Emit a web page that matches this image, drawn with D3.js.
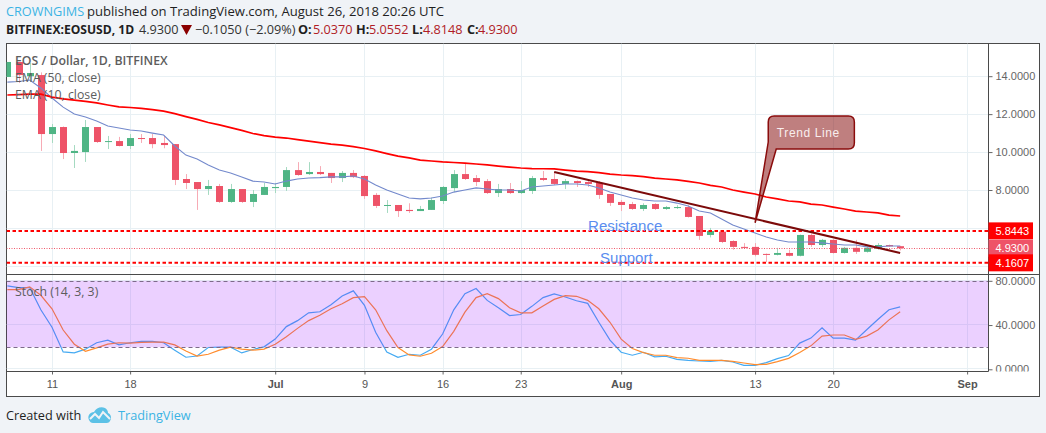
<!DOCTYPE html>
<html>
<head>
<meta charset="utf-8">
<script src="https://d3js.org/d3.v7.min.js"></script>
<style>
  html, body { margin: 0; padding: 0; background: #f0f3f7; overflow: hidden; }
  svg { display: block; }
  text { font-family: "Open Sans", sans-serif; }
  .ax text { font-family: "Liberation Sans", Arial, sans-serif; font-size: 11px; fill: #666; }
</style>
</head>
<body>
<div id="chart"></div>
<script>
// EOS / USD daily, first candle is 7 Jun 2018
var open = [13.96,14.75,14.0,14.06,10.95,11.32,9.95,10.0,11.32,10.53,10.58,10.32,10.74,10.74,10.48,10.42,8.58,8.42,8.05,8.21,7.37,8.05,7.37,7.74,
  8.1,8.16,9.05,8.84,8.95,8.9,8.63,8.9,8.74,7.74,7.16,7.21,6.95,6.89,6.95,7.42,8.1,8.84,8.63,8.47,7.84,8.05,7.84,7.95,8.63,8.58,8.32,8.47,8.42,8.37,7.79,
  7.37,7.26,7.0,7.26,7.0,7.05,7.1,6.63,5.63,5.8,5.31,5.0,5.0,4.63,4.58,4.68,4.53,5.63,5.1,5.37,4.68,4.95,4.74,4.9,5.1,5.037];
var high = [14.75,14.75,14.7,14.2,11.48,11.35,10.37,11.69,11.32,10.85,10.8,10.95,10.95,10.95,10.85,10.42,8.84,8.42,8.53,8.32,8.32,8.05,8.0,8.37,
  8.37,9.21,9.47,9.47,9.26,8.9,9.0,9.05,8.79,7.84,7.47,7.21,7.3,7.16,7.6,8.21,9.05,9.42,8.79,8.58,8.32,8.37,8.47,8.74,9.0,8.95,8.58,8.5,8.58,8.47,7.79,
  7.47,7.37,7.3,7.3,7.16,7.2,7.2,6.63,6.0,5.85,5.35,5.2,5.2,4.65,4.95,4.85,5.65,5.7,5.42,5.4,5.0,5.37,5.0,5.2,5.12,5.0552];
var low = [13.96,13.64,13.7,10.06,10.48,9.63,9.16,9.48,10.48,10.16,10.3,10.16,10.48,10.2,10.2,8.26,8.05,6.95,7.74,7.32,7.32,7.32,7.1,7.74,
  7.84,7.95,8.75,8.79,8.79,8.37,8.42,8.63,7.53,7.05,6.79,6.58,6.79,6.89,6.95,7.26,7.9,8.53,8.21,7.79,7.63,7.79,7.79,7.79,8.47,8.26,8.05,8.16,8.16,7.53,7.16,
  6.89,6.95,6.89,6.95,6.95,7.0,6.55,5.37,5.5,5.2,4.85,4.93,4.5,4.2,4.55,4.5,4.5,5.0,5.0,4.65,4.65,4.63,4.7,4.85,5.0,4.8148];
var close = [14.75,14.06,14.17,10.95,11.32,9.95,10.06,11.32,10.53,10.58,10.32,10.74,10.69,10.42,10.37,8.53,8.37,8.05,8.21,7.37,8.05,7.37,7.79,8.16,
  8.16,9.05,8.79,8.95,8.84,8.63,8.9,8.68,7.68,7.16,7.21,6.89,6.89,7.0,7.47,8.16,8.84,8.58,8.42,7.84,8.05,7.84,8.0,8.63,8.53,8.32,8.47,8.37,8.32,7.74,7.32,
  7.21,7.0,7.21,7.0,7.1,7.1,6.58,5.58,5.84,5.26,5.0,4.95,4.58,4.58,4.68,4.53,5.63,5.1,5.37,4.68,4.95,4.74,4.95,5.1,5.03,4.93];

var ema50 = [13.01,13.03,13.06,13.05,12.90,12.80,12.74,12.67,12.59,12.48,12.38,12.35,12.30,12.24,12.16,12.03,11.87,11.72,11.56,11.43,11.29,11.14,10.98,10.87,
  10.79,10.74,10.66,10.58,10.50,10.42,10.37,10.29,10.19,10.06,9.92,9.79,9.69,9.58,9.53,9.48,9.45,9.42,9.37,9.32,9.26,9.21,9.16,9.13,9.12,9.11,9.05,9.00,8.97,8.92,8.84,
  8.79,8.76,8.71,8.63,8.58,8.53,8.45,8.37,8.24,8.16,8.00,7.89,7.79,7.63,7.53,7.42,7.37,7.26,7.21,7.10,7.00,6.89,6.84,6.79,6.68,6.63];
var ema10 = [13.69,13.72,13.80,13.38,12.85,12.37,12.01,11.85,11.64,11.37,11.27,11.16,11.11,11.00,10.90,10.32,9.84,9.63,9.32,9.05,8.90,8.69,8.47,8.42,
  8.32,8.47,8.58,8.63,8.65,8.69,8.69,8.74,8.58,8.26,8.00,7.79,7.58,7.53,7.58,7.68,7.89,8.00,8.11,8.05,8.00,8.00,7.95,8.16,8.21,8.26,8.32,8.32,8.26,8.11,7.89,
  7.74,7.58,7.47,7.42,7.42,7.31,7.16,6.89,6.79,6.47,6.16,5.94,5.73,5.52,5.36,5.26,5.26,5.26,5.21,5.15,5.10,5.10,5.00,5.00,5.05,5.05];

var stochK = [75.4,73.9,73.9,53.8,38,15.7,14.8,18.2,24,26.4,22.1,24,25.2,25.2,24,17.3,10.9,12,19.7,20,20,14.8,17.9,20.3,
  27.3,38.6,44,51,52,58.4,66.3,70.9,57.8,33.4,15.7,10.9,13.6,12.7,18.2,31.9,53.8,68.4,73,62.3,55.6,48.6,49.5,56.9,64.8,68.1,65.4,62,59.6,42.5,26.4,
  15.4,12.7,15.4,11.2,11.8,9,8.1,7.5,7.2,8,6.6,3.6,3.6,6,9.7,12.4,23.7,28.2,37.4,28.2,28.2,26.4,35.8,45,53.8,56.5];
var stochD = [72.1,72.1,74.5,66.9,54.7,35.5,22.7,16.3,19.4,22.7,24,23.7,24.3,24.6,24.6,22.1,16.6,12,13.6,17.3,20,18.2,17.3,18.2,
  22.7,29.4,37,44,48.9,54.7,59.3,64.8,65.7,53.8,34.9,19.7,13,11.8,14.5,20.6,34.3,51.7,64.8,68.4,63.9,55.6,51,51,57.2,63.2,66.6,66,62.3,54.7,42.5,
  27.3,18.8,15.1,12.7,12.7,10.6,10,8.1,8.1,8.1,7.2,5.7,4.2,4.5,6.9,9.9,15.1,21.2,30,31,31,27,30,35.5,44.7,52];

var priceTicks = [14, 12, 10, 8];
var priceGrid = [14, 12, 10, 8, 6, 4];
var stochTicks = [80, 40, 0];
var timeTicks = ["2018-06-11","2018-06-18","2018-07-01","2018-07-09","2018-07-16","2018-07-23","2018-08-01","2018-08-13","2018-08-20","2018-09-01"];
var timeLabels = ["11","18","Jul","9","16","23","Aug","13","20","Sep"];
var boldLabels = ["Jul","Aug","Sep"];

var levels = [5.8443, 4.1607];
var lastPrice = 4.93;
var trendDates = ["2018-07-26","2018-08-26"];
var trendPrices = [8.95,4.68];

var parse = d3.utcParse("%Y-%m-%d");
var days = d3.utcDay.range(parse("2018-06-07"), parse("2018-08-27"));

var W = 1046, H = 433;
var left = 6.5, axisX = 988.5, right = 1039.5;
var top1 = 43.5, bot1 = 274.5, bot2 = 371.5, bot3 = 396.5;

var x = d3.scaleUtc()
  .domain([parse("2018-06-11"), parse("2018-08-20")])
  .range([52, 833.2]);
var y = d3.scaleLinear().domain([8, 14]).range([190, 76.2]);
var yS = d3.scaleLinear().domain([0, 80]).range([369.3, 280.8]);

var svg = d3.select("#chart").append("svg").attr("width", W).attr("height", H);

// panel
svg.append("rect").attr("x", left).attr("y", top1).attr("width", right - left).attr("height", bot3 - top1)
  .attr("fill", "#fff").attr("stroke", "#4a4a4a");

var defs = svg.append("defs");
defs.append("clipPath").attr("id", "c1").append("rect")
  .attr("x", left).attr("y", top1).attr("width", axisX - left).attr("height", bot1 - top1);
defs.append("clipPath").attr("id", "c2").append("rect")
  .attr("x", left).attr("y", bot1).attr("width", axisX - left).attr("height", bot2 - bot1);
defs.append("clipPath").attr("id", "c3").append("rect")
  .attr("x", axisX).attr("y", bot1).attr("width", right - axisX).attr("height", bot2 - bot1);

var g1 = svg.append("g").attr("clip-path", "url(#c1)");
var g2 = svg.append("g").attr("clip-path", "url(#c2)");

// grid
var gridCol = "#e8f0f4";
[g1, g2].forEach(function(g) {
  g.selectAll("line.v").data(timeTicks).join("line").attr("class", "v")
    .attr("x1", function(d) { return Math.round(x(parse(d))) + 0.5; })
    .attr("x2", function(d) { return Math.round(x(parse(d))) + 0.5; })
    .attr("y1", top1).attr("y2", bot2).attr("stroke", gridCol);
});
g1.selectAll("line.h").data(priceGrid).join("line").attr("class", "h")
  .attr("x1", left).attr("x2", axisX)
  .attr("y1", function(d) { return Math.round(y(d)) + 0.5; })
  .attr("y2", function(d) { return Math.round(y(d)) + 0.5; })
  .attr("stroke", gridCol);
g2.selectAll("line.h").data(stochTicks).join("line").attr("class", "h")
  .attr("x1", left).attr("x2", axisX)
  .attr("y1", function(d) { return Math.round(yS(d)) - 0.5; })
  .attr("y2", function(d) { return Math.round(yS(d)) - 0.5; })
  .attr("stroke", gridCol);

// candles
var upCol = "#4fb585", downCol = "#ee5368";
var upWick = "#a5dac1", downWick = "#f7abb5";
var cx = function(i) { return Math.round(x(days[i])) + 0.5; };

g1.selectAll("line.wick").data(days).join("line").attr("class", "wick")
  .attr("x1", function(d, i) { return cx(i); })
  .attr("x2", function(d, i) { return cx(i); })
  .attr("y1", function(d, i) { return y(high[i]); })
  .attr("y2", function(d, i) { return y(low[i]); })
  .attr("stroke", function(d, i) { return close[i] >= open[i] ? upWick : downWick; });

g1.selectAll("rect.body").data(days).join("rect").attr("class", "body")
  .attr("x", function(d, i) { return cx(i) - 3.5; })
  .attr("width", 7)
  .attr("y", function(d, i) { return y(Math.max(open[i], close[i])); })
  .attr("height", function(d, i) { return Math.max(1, Math.abs(y(open[i]) - y(close[i]))); })
  .attr("fill", function(d, i) { return close[i] >= open[i] ? upCol : downCol; });

var priceLine = d3.line().x(function(d, i) { return x(days[i]); }).y(function(d) { return y(d); });
g1.append("path").attr("d", priceLine(ema10)).attr("fill", "none").attr("stroke", "#7389cc").attr("stroke-width", 1.1);
g1.append("path").attr("d", priceLine(ema50)).attr("fill", "none").attr("stroke", "#ff0000").attr("stroke-width", 1.7);

// levels
g1.selectAll("line.level").data(levels).join("line").attr("class", "level")
  .attr("x1", left).attr("x2", axisX)
  .attr("y1", function(d) { return y(d); }).attr("y2", function(d) { return y(d); })
  .attr("stroke", "#ff0000").attr("stroke-width", 2).attr("stroke-dasharray", "3.5 2.5");
g1.append("line").attr("x1", left).attr("x2", axisX).attr("y1", Math.round(y(lastPrice)) + 0.5).attr("y2", Math.round(y(lastPrice)) + 0.5)
  .attr("stroke", "#ef5a6c").attr("stroke-dasharray", "1 1.5");

// trend line and callout
g1.append("line")
  .attr("x1", x(parse(trendDates[0]))).attr("y1", y(trendPrices[0]))
  .attr("x2", x(parse(trendDates[1]))).attr("y2", y(trendPrices[1]))
  .attr("stroke", "#7c0a0a").attr("stroke-width", 2);

var tipX = x(parse("2018-08-13")), tipY = y(6.27);
var bl = x(parse("2018-08-14")) + 2, br = x(parse("2018-08-21")) + 10, bt = y(11.9), bb = y(10.16), r = 6;
var callout = d3.path();
callout.moveTo(tipX, tipY);
callout.lineTo(bl, bb - 7);
callout.lineTo(bl, bt + r);
callout.quadraticCurveTo(bl, bt, bl + r, bt);
callout.lineTo(br - r, bt);
callout.quadraticCurveTo(br, bt, br, bt + r);
callout.lineTo(br, bb - r);
callout.quadraticCurveTo(br, bb, br - r, bb);
callout.lineTo(bl + 8, bb);
callout.closePath();
g1.append("path").attr("d", callout.toString())
  .attr("fill", "#800000").attr("fill-opacity", 0.5).attr("stroke", "#8a0c0c").attr("stroke-width", 1.5);
g1.append("text").attr("x", (bl + br) / 2 - 3).attr("y", (bt + bb) / 2 + 4).attr("text-anchor", "middle")
  .attr("fill", "#f8eeee").attr("font-size", 12).style("letter-spacing", "0.6px")
  .style("font-family", "Liberation Sans").text("Trend Line");

// resistance / support words
var wordCol = "#5a8def";
g1.append("text").attr("x", x(parse("2018-08-01")) + 4).attr("y", y(6.1) + 5).attr("text-anchor", "middle")
  .attr("fill", wordCol).attr("font-size", 15).style("font-family", "Liberation Sans").text("Resistance");
g1.append("text").attr("x", x(parse("2018-08-02")) - 6).attr("y", y(4.4) + 5).attr("text-anchor", "middle")
  .attr("fill", wordCol).attr("font-size", 15).style("font-family", "Liberation Sans").text("Support");

// legend
var legendCol = "#5d5d5d";
g1.append("text").attr("x", 15).attr("y", 65).attr("fill", legendCol).attr("font-size", 12.3).attr("font-weight", 600).text("EOS / Dollar, 1D, BITFINEX");
g1.append("text").attr("x", 15).attr("y", 82).attr("fill", legendCol).attr("font-size", 12.3).text("EMA (50, close)");
g1.append("text").attr("x", 15).attr("y", 99).attr("fill", legendCol).attr("font-size", 12.3).text("EMA (10, close)");

// stoch lines go under the translucent band so they pick up its tint
var stochLine = d3.line().x(function(d, i) { return x(days[i]); }).y(function(d) { return yS(d); });
g2.append("path").attr("d", stochLine(stochK)).attr("fill", "none").attr("stroke", "#45aaf2").attr("stroke-width", 1.2);
g2.append("path").attr("d", stochLine(stochD)).attr("fill", "none").attr("stroke", "#ff8c2e").attr("stroke-width", 1.2);
g2.append("rect").attr("x", left).attr("width", axisX - left)
  .attr("y", yS(80)).attr("height", yS(20) - yS(80))
  .attr("fill", "#9915ff").attr("fill-opacity", 0.2);
[80, 20].forEach(function(v) {
  g2.append("line").attr("x1", left).attr("x2", axisX).attr("y1", Math.round(yS(v)) + 0.5).attr("y2", Math.round(yS(v)) + 0.5)
    .attr("stroke", "#7d6b8a").attr("stroke-dasharray", "4 3");
});
g2.append("text").attr("x", 15).attr("y", 296).attr("fill", legendCol).attr("font-size", 12.3).text("Stoch (14, 3, 3)");

// axes
var axisP = svg.append("g").attr("class", "ax").attr("transform", "translate(" + axisX + ",0)")
  .call(d3.axisRight(y).tickValues(priceTicks).tickSize(4).tickPadding(3).tickFormat(d3.format(".4f")));
var axisS = svg.append("g").attr("class", "ax").attr("clip-path", "url(#c3)")
  .append("g").attr("transform", "translate(" + axisX + ",0)")
  .call(d3.axisRight(yS).tickValues(stochTicks).tickSize(4).tickPadding(3).tickFormat(d3.format(".4f")));
axisP.select(".domain").remove();
axisS.select(".domain").remove();
svg.selectAll(".ax .tick line").attr("stroke", "#666");

var axisT = svg.append("g").attr("class", "ax").attr("transform", "translate(0," + bot2 + ")")
  .call(d3.axisBottom(x).tickValues(timeTicks.map(parse)).tickSize(3).tickPadding(6)
    .tickFormat(function(d, i) { return timeLabels[i]; }));
axisT.select(".domain").remove();
axisT.selectAll(".tick text").attr("font-weight", function(d, i) { return boldLabels.indexOf(timeLabels[i]) >= 0 ? "bold" : null; })
  .style("fill", "#555");
axisT.selectAll(".tick line").attr("stroke", "#666");

// pane borders
var border = "#4a4a4a";
svg.append("line").attr("x1", left).attr("x2", right).attr("y1", bot1).attr("y2", bot1).attr("stroke", border);
svg.append("line").attr("x1", left).attr("x2", axisX).attr("y1", bot2).attr("y2", bot2).attr("stroke", border);
svg.append("line").attr("x1", axisX).attr("x2", axisX).attr("y1", top1).attr("y2", bot2).attr("stroke", border);

// price tags
var tags = [[5.8443, "5.8443", "#ff0000"], [4.93, "4.9300", "#ee5368"], [4.1607, "4.1607", "#ff0000"]];
var tag = svg.selectAll("g.tag").data(tags).join("g").attr("class", "tag")
  .attr("transform", function(d) { return "translate(" + axisX + "," + y(d[0]) + ")"; });
tag.append("rect").attr("x", 0).attr("y", -8.5).attr("width", 44.5).attr("height", 17)
  .attr("fill", function(d) { return d[2]; });
tag.append("text").attr("x", 7).attr("y", 4).attr("fill", "#fff").attr("font-size", 11)
  .style("font-family", "Liberation Sans").text(function(d) { return d[1]; });

// header
var ink = "#1f1f1f", blue = "#3bb3e4", darkRed = "#b01c26";
function head(px, py, str, col, weight, size) {
  return svg.append("text").attr("x", px).attr("y", py).attr("fill", col).attr("font-size", size || 12.7)
    .attr("font-weight", weight || null).text(str);
}
head(6, 16, "CROWNGIMS", blue);
head(87, 16, "published on TradingView.com, August 26, 2018 20:26 UTC", ink, null, 13.1);
head(6, 34, "BITFINEX:EOSUSD, 1D", ink, 700, 12.1);
head(139, 34, "4.9300", "#333");
svg.append("path").attr("d", d3.line()([[181, 25], [192, 25], [186.5, 35]])).attr("fill", "#8b0000");
head(195, 34, "−0.1050 (−2.09%)", "#333");
head(298, 34, "O:", ink, 700); head(313, 34, "5.0370", darkRed);
head(356, 34, "H:", ink, 700); head(369, 34, "5.0552", darkRed);
head(412, 34, "L:", ink, 700); head(423, 34, "4.8148", darkRed);
head(467, 34, "C:", ink, 700); head(478, 34, "4.9300", darkRed);

// footer
head(6, 420, "Created with", ink);
head(118, 420, "TradingView", blue);
var logo = svg.append("g").attr("transform", "translate(88,406)");
logo.append("path").attr("fill", "#5cc1e6")
  .attr("d", "M1 14 C-1 10 2 6 6 6 C8 2 13 0 17 2 C19 3 20 5 20 7 C23 8 24 12 22 15 C21 17 19 17 17 17 L5 17 C3 17 2 16 1 14 Z");
logo.append("path").attr("fill", "none").attr("stroke", "#f0f3f7").attr("stroke-width", 2)
  .attr("d", "M2 13 L7 8 L11 12 L15 6 L22 13");
</script>
</body>
</html>
